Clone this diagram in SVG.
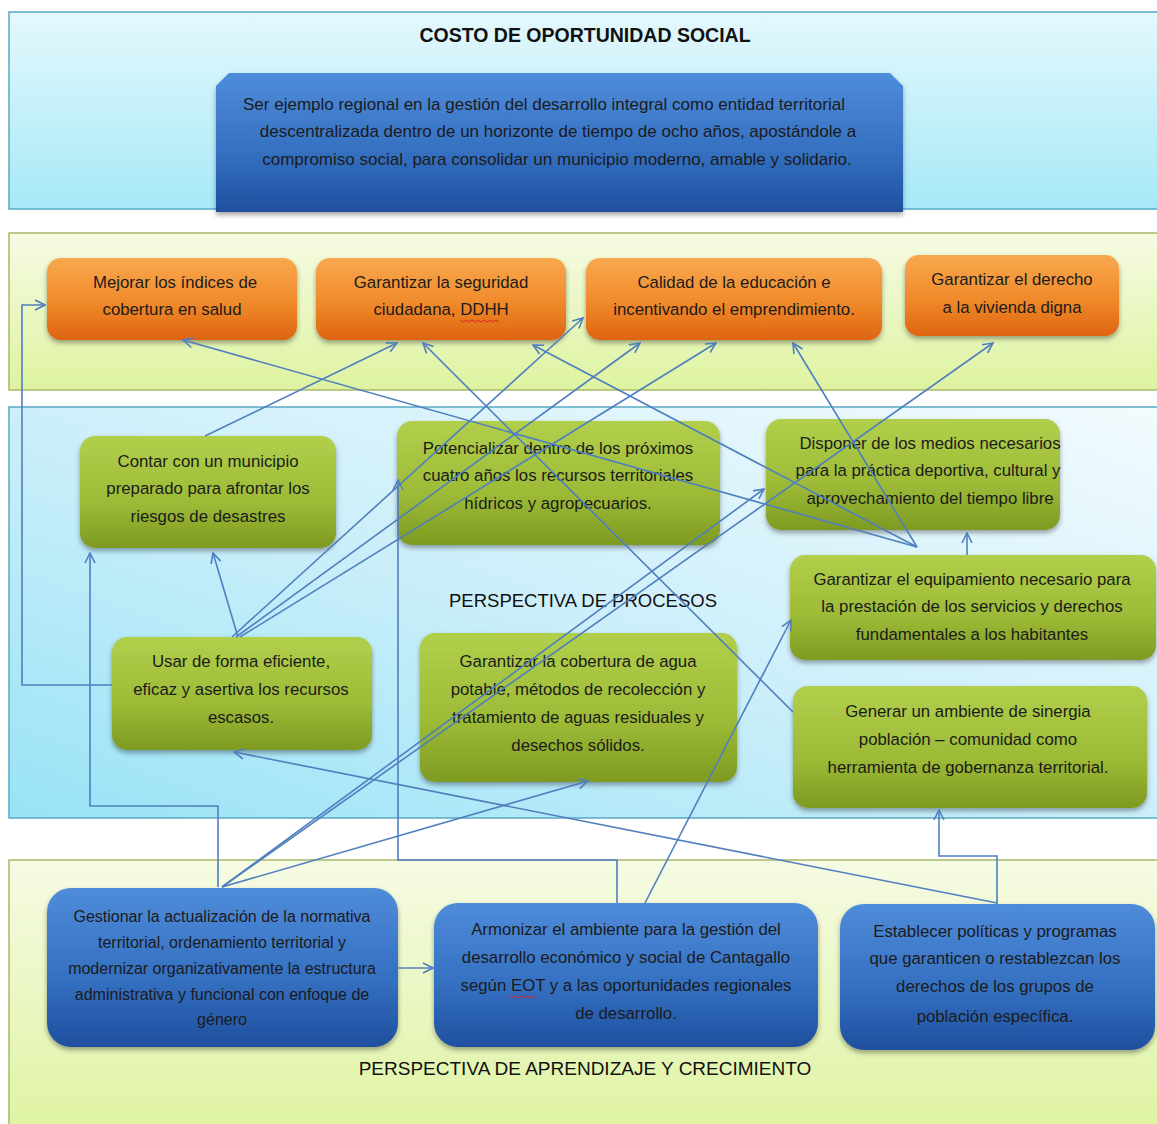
<svg xmlns="http://www.w3.org/2000/svg" width="1157" height="1124" viewBox="0 0 1157 1124">
<style>
text{font-family:"Liberation Sans",Arial,sans-serif;fill:#1b1b1b;text-anchor:middle}
.t{font-size:16.8px}
.ts{font-size:16px}
.tv{font-size:17px}
.th{font-size:18px;fill:#111}
.cn{fill:none;stroke:#4f7fbf;stroke-width:1.6}
.band-c{stroke:#5aa9c4;stroke-width:1.5}
.band-g{stroke:#a9b86a;stroke-width:1.5}
.or{fill:url(#gOr);filter:url(#sh)}
.gr{fill:url(#gGr);filter:url(#sh)}
.bl{fill:url(#gBl);filter:url(#sh)}
</style>
<defs>
<linearGradient id="gC1" x1="0" y1="0" x2="0" y2="1"><stop offset="0" stop-color="#e4f8fc"/><stop offset="1" stop-color="#a6e9f7"/></linearGradient>
<linearGradient id="gC3" x1="1" y1="0" x2="0" y2="1"><stop offset="0" stop-color="#f3fbfe"/><stop offset="0.5" stop-color="#cdeffa"/><stop offset="1" stop-color="#98e3f6"/></linearGradient>
<linearGradient id="gG" x1="0" y1="0" x2="0" y2="1"><stop offset="0" stop-color="#f6fbe4"/><stop offset="1" stop-color="#def3a0"/></linearGradient>
<linearGradient id="gOr" x1="0" y1="0" x2="0" y2="1"><stop offset="0" stop-color="#f8a84e"/><stop offset="0.55" stop-color="#f08a2a"/><stop offset="1" stop-color="#de6410"/></linearGradient>
<linearGradient id="gGr" x1="0" y1="0" x2="0" y2="1"><stop offset="0" stop-color="#b2cf4c"/><stop offset="0.6" stop-color="#9cba36"/><stop offset="1" stop-color="#7e9a22"/></linearGradient>
<linearGradient id="gBl" x1="0" y1="0" x2="0" y2="1"><stop offset="0" stop-color="#4f8cda"/><stop offset="0.6" stop-color="#336ebf"/><stop offset="1" stop-color="#1f4f9e"/></linearGradient>
<filter id="sh" x="-10%" y="-10%" width="120%" height="130%"><feDropShadow dx="0" dy="3" stdDeviation="2.5" flood-color="#000" flood-opacity="0.35"/></filter>
<marker id="ar" viewBox="0 0 12 12" refX="11" refY="6" markerWidth="12" markerHeight="12" markerUnits="userSpaceOnUse" orient="auto"><path d="M1,1 L11,6 L1,11" fill="none" stroke="#4f7fbf" stroke-width="1.6"/></marker>
</defs>

<g id="bands">
<rect x="9" y="12" width="1160" height="197" fill="url(#gC1)" class="band-c"/>
<rect x="9" y="233" width="1160" height="157" fill="url(#gG)" class="band-g"/>
<rect x="9" y="407" width="1160" height="411" fill="url(#gC3)" class="band-c"/>
<rect x="9" y="860" width="1160" height="280" fill="url(#gG)" class="band-g"/>
</g>

<g id="titles">
<text x="585" y="42" style="font-size:19.5px;font-weight:bold;fill:#111">COSTO DE OPORTUNIDAD SOCIAL</text>
<text class="th" x="583" y="607" style="font-size:18.5px">PERSPECTIVA DE PROCESOS</text>
<text class="th" x="585" y="1075" style="font-size:19px">PERSPECTIVA DE APRENDIZAJE Y CRECIMIENTO</text>
</g>

<g id="vision">
<path d="M216,86 L229,73 L890,73 L903,86 L903,212 L216,212 Z" class="bl"/>
<text class="tv" x="544" y="110">Ser ejemplo regional en la gestión del desarrollo integral como entidad territorial</text>
<text class="tv" x="558" y="137">descentralizada dentro de un horizonte de tiempo de ocho años, apostándole a</text>
<text class="tv" x="557" y="165">compromiso social, para consolidar un municipio moderno, amable y solidario.</text>
</g>

<g id="o1"><rect x="47" y="258" width="250" height="82" rx="14" class="or"/>
<text class="t" x="175" y="288">Mejorar los índices de</text><text class="t" x="172" y="315">cobertura en salud</text></g>
<g id="o2"><rect x="316" y="258" width="250" height="82" rx="14" class="or"/>
<text class="t" x="441" y="288">Garantizar la seguridad</text><text class="t" x="441" y="315">ciudadana, DDHH</text>
<path d="M460,320 l3,2 l3,-2 l3,2 l3,-2 l3,2 l3,-2 l3,2 l3,-2 l3,2 l3,-2 l3,2 l3,-2 l3,2" fill="none" stroke="#d22" stroke-width="1"/></g>
<g id="o3"><rect x="586" y="258" width="296" height="82" rx="14" class="or"/>
<text class="t" x="734" y="288">Calidad de la educación e</text><text class="t" x="734" y="315">incentivando el emprendimiento.</text></g>
<g id="o4"><rect x="905" y="255" width="214" height="81" rx="14" class="or"/>
<text class="t" x="1012" y="285">Garantizar el derecho</text><text class="t" x="1012" y="313">a la vivienda digna</text></g>

<g id="pA"><rect x="80" y="436" width="256" height="112" rx="15" class="gr"/>
<text class="t" x="208" y="467">Contar con un municipio</text><text class="t" x="208" y="494">preparado para afrontar los</text><text class="t" x="208" y="522">riesgos de desastres</text></g>
<g id="pB"><rect x="397" y="421" width="323" height="124" rx="15" class="gr"/>
<text class="t" x="558" y="454">Potencializar dentro de los próximos</text><text class="t" x="558" y="481">cuatro años los recursos territoriales</text><text class="t" x="558" y="509">hídricos y agropecuarios.</text></g>
<g id="pC"><rect x="766" y="419" width="294" height="111" rx="15" class="gr"/>
<text class="t" x="930" y="449">Disponer de los medios necesarios</text><text class="t" x="928" y="476">para la práctica deportiva, cultural y</text><text class="t" x="930" y="504">aprovechamiento del tiempo libre</text></g>
<g id="pD"><rect x="790" y="555" width="366" height="105" rx="15" class="gr"/>
<text class="t" x="972" y="585">Garantizar el equipamiento necesario para</text><text class="t" x="972" y="612">la prestación de los servicios y derechos</text><text class="t" x="972" y="640">fundamentales a los habitantes</text></g>
<g id="pE"><rect x="112" y="637" width="260" height="113" rx="15" class="gr"/>
<text class="t" x="241" y="667">Usar de forma eficiente,</text><text class="t" x="241" y="695">eficaz y asertiva los recursos</text><text class="t" x="241" y="723">escasos.</text></g>
<g id="pF"><rect x="420" y="633" width="317" height="149" rx="15" class="gr"/>
<text class="t" x="578" y="667">Garantizar la cobertura de agua</text><text class="t" x="578" y="695">potable, métodos de recolección y</text><text class="t" x="578" y="723">tratamiento de aguas residuales y</text><text class="t" x="578" y="751">desechos sólidos.</text></g>
<g id="pG"><rect x="793" y="686" width="354" height="122" rx="15" class="gr"/>
<text class="t" x="968" y="717">Generar un ambiente de sinergia</text><text class="t" x="968" y="745">población – comunidad como</text><text class="t" x="968" y="773">herramienta de gobernanza territorial.</text></g>

<g id="aH"><rect x="47" y="888" width="351" height="159" rx="24" class="bl"/>
<text class="ts" x="222" y="922">Gestionar la actualización de la normativa</text><text class="ts" x="222" y="948">territorial, ordenamiento territorial y</text><text class="ts" x="222" y="974">modernizar organizativamente la estructura</text><text class="ts" x="222" y="1000">administrativa y funcional con enfoque de</text><text class="ts" x="222" y="1025">género</text></g>
<g id="aI"><rect x="434" y="903" width="384" height="144" rx="24" class="bl"/>
<text class="t" x="626" y="935">Armonizar el ambiente para la gestión del</text><text class="t" x="626" y="963">desarrollo económico y social de Cantagallo</text><text class="t" x="626" y="991">según EOT y a las oportunidades regionales</text><text class="t" x="626" y="1019">de desarrollo.</text>
<path d="M509,996 l3,2 l3,-2 l3,2 l3,-2 l3,2 l3,-2 l3,2 l3,-2 l3,2" fill="none" stroke="#d22" stroke-width="1"/></g>
<g id="aJ"><rect x="840" y="904" width="315" height="146" rx="24" class="bl"/>
<text class="t" x="995" y="937">Establecer políticas y programas</text><text class="t" x="995" y="964">que garanticen o restablezcan los</text><text class="t" x="995" y="992">derechos de los grupos de</text><text class="t" x="995" y="1022">población específica.</text></g>

<g id="connectors">
<polyline class="cn" points="112,685 22,685 22,305 45,305" marker-end="url(#ar)"/>
<line class="cn" x1="205" y1="436" x2="397" y2="343" marker-end="url(#ar)"/>
<line class="cn" x1="917" y1="547" x2="183" y2="340" marker-end="url(#ar)"/>
<line class="cn" x1="917" y1="547" x2="533" y2="345" marker-end="url(#ar)"/>
<line class="cn" x1="917" y1="547" x2="793" y2="343" marker-end="url(#ar)"/>
<line class="cn" x1="793" y1="712" x2="423" y2="343" marker-end="url(#ar)"/>
<line class="cn" x1="232" y1="637" x2="583" y2="318" marker-end="url(#ar)"/>
<line class="cn" x1="236" y1="637" x2="640" y2="343" marker-end="url(#ar)"/>
<line class="cn" x1="240" y1="637" x2="716" y2="343" marker-end="url(#ar)"/>
<line class="cn" x1="238" y1="637" x2="213" y2="553" marker-end="url(#ar)"/>
<polyline class="cn" points="218,887 218,806 90,806 90,553" marker-end="url(#ar)"/>
<line class="cn" x1="222" y1="887" x2="588" y2="781" marker-end="url(#ar)"/>
<line class="cn" x1="222" y1="887" x2="764" y2="489" marker-end="url(#ar)"/>
<line class="cn" x1="222" y1="887" x2="993" y2="343" marker-end="url(#ar)"/>
<polyline class="cn" points="617,903 617,860 398,860 398,480" marker-end="url(#ar)"/>
<line class="cn" x1="645" y1="903" x2="791" y2="620" marker-end="url(#ar)"/>
<polyline class="cn" points="997,904 997,856 939,856 939,810" marker-end="url(#ar)"/>
<line class="cn" x1="997" y1="903" x2="234" y2="752" marker-end="url(#ar)"/>
<line class="cn" x1="398" y1="968" x2="433" y2="968" marker-end="url(#ar)"/>
<line class="cn" x1="967" y1="555" x2="967" y2="533" marker-end="url(#ar)"/>
</g>
</svg>
